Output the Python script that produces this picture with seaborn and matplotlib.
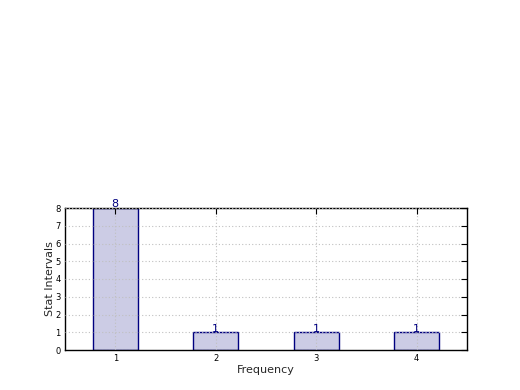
import matplotlib
matplotlib.use("Agg")
import matplotlib.pyplot as plt
import seaborn as sns
import pandas as pd

frequency = [1, 2, 3, 4]
counts = [8, 1, 1, 1]

sns.set_style("white")
plt.rcParams['font.family'] = ['DejaVu Sans']

fig = plt.figure(figsize=(5.2, 3.9), dpi=100)
ax = fig.add_axes([65 / 520, 1 - 350 / 390, 402 / 520, 142 / 390])

df = pd.DataFrame({"Frequency": frequency, "Count": counts})
sns.barplot(data=df, x="Frequency", y="Count", native_scale=True, width=0.45,
            color=(0.8, 0.8, 0.898), edgecolor="navy", linewidth=1.0,
            saturation=1, ax=ax, zorder=1)

for f, c in zip(frequency, counts):
    ax.text(f, c - 0.08, str(c), ha="center", va="bottom", color="navy",
            fontsize=8, zorder=5)

ax.set_xlim(0.5, 4.5)
ax.set_ylim(0, 8)
ax.set_xticks(frequency)
ax.set_xticklabels([str(f) for f in frequency])
ax.set_yticks(range(0, 9))
ax.tick_params(axis="both", direction="in", labelsize=6, length=4, width=0.8,
               top=True, right=True, colors="black", pad=3)
ax.set_axisbelow(False)
ax.grid(True, linestyle=(0, (1, 2)), color="#c0c0c0", linewidth=0.8, zorder=3)
for s in ax.spines.values():
    s.set_color("black")
    s.set_linewidth(1.0)
ax.set_xlabel("Frequency", fontsize=8, labelpad=1)
ax.set_ylabel("Stat Intervals", fontsize=8, labelpad=0)

fig.savefig("out.png", dpi=100, facecolor="white")
